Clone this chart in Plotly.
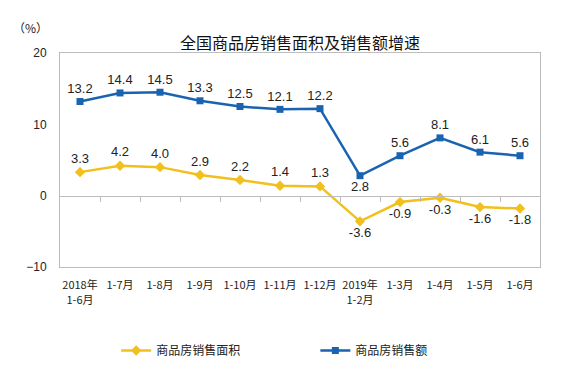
import plotly.graph_objects as go

categories = ["2018年<br>1-6月", "1-7月", "1-8月", "1-9月", "1-10月", "1-11月", "1-12月",
              "2019年<br>1-2月", "1-3月", "1-4月", "1-5月", "1-6月"]
area_growth = [3.3, 4.2, 4.0, 2.9, 2.2, 1.4, 1.3, -3.6, -0.9, -0.3, -1.6, -1.8]
sales_growth = [13.2, 14.4, 14.5, 13.3, 12.5, 12.1, 12.2, 2.8, 5.6, 8.1, 6.1, 5.6]
area_name = "商品房销售面积"
sales_name = "商品房销售额"
title_text = "全国商品房销售面积及销售额增速"
y_ticks = [-10, 0, 10, 20]

yellow = "#F2C01C"
blue = "#1A63B0"
font_num = "Liberation Sans, Noto Sans CJK SC"
font_cn = "Noto Sans CJK SC"

x = list(range(len(categories)))

area_pos = ["top center" if v >= 0 else "bottom center" for v in area_growth]
sales_pos = ["bottom center" if v < 5 else "top center" for v in sales_growth]

fig = go.Figure()
fig.add_trace(go.Scatter(
    x=x, y=area_growth, name=area_name, mode="lines+markers+text",
    line=dict(color=yellow, width=2.5),
    marker=dict(symbol="diamond", size=8, color=yellow),
    text=[f"{v:.1f}" for v in area_growth], textposition=area_pos,
    textfont=dict(size=13, color="#222222", family=font_num),
    legend="legend",
))
fig.add_trace(go.Scatter(
    x=x, y=sales_growth, name=sales_name, mode="lines+markers+text",
    line=dict(color=blue, width=2.5),
    marker=dict(symbol="square", size=7, color=blue),
    text=[f"{v:.1f}" for v in sales_growth], textposition=sales_pos,
    textfont=dict(size=13, color="#222222", family=font_num),
    legend="legend2",
))
# invisible trace to activate the zero-line tick axis
fig.add_trace(go.Scatter(x=[x[0]], y=[0], xaxis="x2", mode="markers",
                         marker=dict(opacity=0), showlegend=False, hoverinfo="skip"))

legend_common = dict(orientation="h", yanchor="middle", y=-0.39, xanchor="left",
                     font=dict(size=12, family=font_cn, color="#222222"),
                     itemwidth=30, bgcolor="rgba(0,0,0,0)")

# page body has an 8px margin, so the figure is sized 8px smaller
fig.update_layout(
    width=561, height=368,
    margin=dict(l=52, r=29, t=45, b=109, autoexpand=False),
    paper_bgcolor="white", plot_bgcolor="white",
    font=dict(family=font_num, color="#222222"),
    showlegend=True,
    legend=dict(x=0.117, **legend_common),
    legend2=dict(x=0.532, **legend_common),
    xaxis=dict(
        range=[-0.5, len(categories) - 0.5],
        tickmode="array", tickvals=x, ticktext=categories,
        showgrid=False, zeroline=False,
        showline=True, linecolor="#BDBDBD", linewidth=1, mirror=True,
        ticks="", ticklabelstandoff=8,
        tickfont=dict(size=11, family=font_cn),
    ),
    xaxis2=dict(
        overlaying="x", anchor="free", position=1 / 3,
        range=[-0.5, len(categories) - 0.5],
        tickmode="array", tickvals=[i + 0.5 for i in x[:-1]],
        showticklabels=False, ticks="outside", ticklen=5, tickcolor="#BDBDBD",
        showline=True, linecolor="#BDBDBD", linewidth=1,
        showgrid=False, zeroline=False, side="bottom",
    ),
    yaxis=dict(
        range=[-10, 20], tickmode="array", tickvals=y_ticks,
        showgrid=False, zeroline=False,
        showline=True, linecolor="#BDBDBD", linewidth=1, mirror=True,
        ticks="", ticklabelstandoff=10,
        tickfont=dict(size=12, family="Liberation Sans"),
    ),
)
fig.add_annotation(text=title_text, xref="paper", yref="paper", x=0.5, y=1.051,
                   xanchor="center", yanchor="middle", showarrow=False,
                   font=dict(size=16, family=font_cn, color="#111111"))
fig.add_annotation(text="（%）", xref="paper", yref="paper", x=-0.0625, y=1.117,
                   xanchor="center", yanchor="middle", showarrow=False,
                   font=dict(size=12, family=font_cn, color="#222222"))

fig.write_html("out.html")
